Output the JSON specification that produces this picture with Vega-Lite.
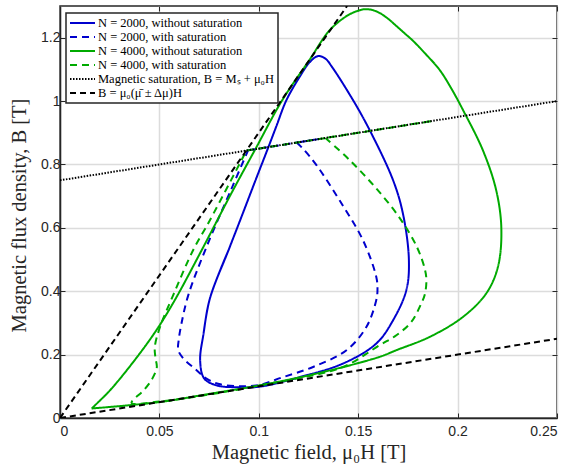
{
  "$schema": "https://vega.github.io/schema/vega-lite/v6.json",
  "width": 497,
  "height": 412,
  "autosize": {"type": "none"},
  "padding": {"left": 60, "top": 6, "right": 15, "bottom": 51},
  "background": "white",
  "config": {
    "view": {"stroke": "#262626", "strokeWidth": 1.5},
    "axis": {
      "labelFont": "Liberation Sans", "labelFontSize": 14, "labelColor": "#262626",
      "titleFont": "Liberation Serif", "titleFontSize": 20.5, "titleFontWeight": "normal", "titleColor": "#262626",
      "domainColor": "#262626", "domainWidth": 1.5,
      "tickColor": "#262626", "tickSize": -5, "tickWidth": 1,
      "gridColor": "#dcdcdc", "gridWidth": 1.5, "gridOpacity": 1
    },
    "legend": {"strokeWidth": 1.5}
  },
  "data": {
    "values": [
      {"s":"a","g":"a","o":0,"x":0.0722,"y":0.266},
      {"s":"a","g":"a","o":1,"x":0.0754,"y":0.377},
      {"s":"a","g":"a","o":2,"x":0.0848,"y":0.53},
      {"s":"a","g":"a","o":3,"x":0.0913,"y":0.635},
      {"s":"a","g":"a","o":4,"x":0.0984,"y":0.751},
      {"s":"a","g":"a","o":5,"x":0.1046,"y":0.851},
      {"s":"a","g":"a","o":6,"x":0.1088,"y":0.92},
      {"s":"a","g":"a","o":7,"x":0.1139,"y":1.003},
      {"s":"a","g":"a","o":8,"x":0.1206,"y":1.077},
      {"s":"a","g":"a","o":9,"x":0.1255,"y":1.122},
      {"s":"a","g":"a","o":10,"x":0.1298,"y":1.142},
      {"s":"a","g":"a","o":11,"x":0.1335,"y":1.134},
      {"s":"a","g":"a","o":12,"x":0.1368,"y":1.108},
      {"s":"a","g":"a","o":13,"x":0.1474,"y":1.003},
      {"s":"a","g":"a","o":14,"x":0.1558,"y":0.908},
      {"s":"a","g":"a","o":15,"x":0.1675,"y":0.751},
      {"s":"a","g":"a","o":16,"x":0.1725,"y":0.645},
      {"s":"a","g":"a","o":17,"x":0.1755,"y":0.498},
      {"s":"a","g":"a","o":18,"x":0.1742,"y":0.403},
      {"s":"a","g":"a","o":19,"x":0.1675,"y":0.308},
      {"s":"a","g":"a","o":20,"x":0.1591,"y":0.235},
      {"s":"a","g":"a","o":21,"x":0.1424,"y":0.172},
      {"s":"a","g":"a","o":22,"x":0.1206,"y":0.129},
      {"s":"a","g":"a","o":23,"x":0.1005,"y":0.099},
      {"s":"a","g":"a","o":24,"x":0.0888,"y":0.097},
      {"s":"a","g":"a","o":25,"x":0.0787,"y":0.103},
      {"s":"a","g":"a","o":26,"x":0.0725,"y":0.125},
      {"s":"a","g":"a","o":27,"x":0.0705,"y":0.182},
      {"s":"a","g":"a","o":28,"x":0.0722,"y":0.266},
      {"s":"a","g":"a","o":29,"x":0.0754,"y":0.377},
      {"s":"a","g":"a","o":30,"x":0.0848,"y":0.53},

      {"s":"b","g":"b1","o":1,"x":0.119,"y":0.869},
      {"s":"b","g":"b1","o":2,"x":0.1225,"y":0.848},
      {"s":"b","g":"b1","o":3,"x":0.129,"y":0.798},
      {"s":"b","g":"b1","o":4,"x":0.1407,"y":0.686},
      {"s":"b","g":"b1","o":5,"x":0.1524,"y":0.561},
      {"s":"b","g":"b1","o":6,"x":0.1591,"y":0.445},
      {"s":"b","g":"b1","o":7,"x":0.1597,"y":0.405},
      {"s":"b","g":"b1","o":8,"x":0.1591,"y":0.372},
      {"s":"b","g":"b1","o":9,"x":0.1541,"y":0.287},
      {"s":"b","g":"b1","o":10,"x":0.1441,"y":0.214},
      {"s":"b","g":"b1","o":11,"x":0.1273,"y":0.161},
      {"s":"b","g":"b1","o":12,"x":0.1122,"y":0.129},
      {"s":"b","g":"b1","o":13,"x":0.1,"y":0.104},
      {"s":"b","g":"b1","o":14,"x":0.09,"y":0.1},
      {"s":"b","g":"b1","o":15,"x":0.08,"y":0.107},
      {"s":"b","g":"b1","o":16,"x":0.0737,"y":0.124},
      {"s":"b","g":"b1","o":17,"x":0.0687,"y":0.151},
      {"s":"b","g":"b1","o":18,"x":0.062,"y":0.188},
      {"s":"b","g":"b1","o":19,"x":0.0595,"y":0.214},
      {"s":"b","g":"b1","o":20,"x":0.0598,"y":0.25},
      {"s":"b","g":"b1","o":21,"x":0.0611,"y":0.298},
      {"s":"b","g":"b1","o":22,"x":0.0645,"y":0.387},
      {"s":"b","g":"b1","o":23,"x":0.0737,"y":0.54},
      {"s":"b","g":"b1","o":24,"x":0.0863,"y":0.724},
      {"s":"b","g":"b1","o":25,"x":0.0946,"y":0.8446},
      {"s":"b","g":"b2","o":1,"x":0.0946,"y":0.8446},
      {"s":"b","g":"b2","o":2,"x":0.1307,"y":0.8807},
      {"s":"b","g":"b2","o":3,"x":0.119,"y":0.869},

      {"s":"c","g":"c","o":1,"x":0.0159,"y":0.03},
      {"s":"c","g":"c","o":2,"x":0.0251,"y":0.087},
      {"s":"c","g":"c","o":3,"x":0.0375,"y":0.182},
      {"s":"c","g":"c","o":4,"x":0.0488,"y":0.28},
      {"s":"c","g":"c","o":5,"x":0.0582,"y":0.377},
      {"s":"c","g":"c","o":6,"x":0.0713,"y":0.53},
      {"s":"c","g":"c","o":7,"x":0.0862,"y":0.709},
      {"s":"c","g":"c","o":8,"x":0.0985,"y":0.851},
      {"s":"c","g":"c","o":9,"x":0.1118,"y":1.003},
      {"s":"c","g":"c","o":10,"x":0.1254,"y":1.129},
      {"s":"c","g":"c","o":11,"x":0.1357,"y":1.224},
      {"s":"c","g":"c","o":12,"x":0.1441,"y":1.268},
      {"s":"c","g":"c","o":13,"x":0.149,"y":1.283},
      {"s":"c","g":"c","o":14,"x":0.1533,"y":1.29},
      {"s":"c","g":"c","o":15,"x":0.1573,"y":1.287},
      {"s":"c","g":"c","o":16,"x":0.1608,"y":1.278},
      {"s":"c","g":"c","o":17,"x":0.165,"y":1.26},
      {"s":"c","g":"c","o":18,"x":0.1692,"y":1.237},
      {"s":"c","g":"c","o":19,"x":0.1735,"y":1.213},
      {"s":"c","g":"c","o":20,"x":0.1776,"y":1.19},
      {"s":"c","g":"c","o":21,"x":0.184,"y":1.148},
      {"s":"c","g":"c","o":22,"x":0.191,"y":1.098},
      {"s":"c","g":"c","o":23,"x":0.197,"y":1.038},
      {"s":"c","g":"c","o":24,"x":0.2027,"y":0.972},
      {"s":"c","g":"c","o":25,"x":0.2127,"y":0.845},
      {"s":"c","g":"c","o":26,"x":0.2194,"y":0.719},
      {"s":"c","g":"c","o":27,"x":0.222,"y":0.598},
      {"s":"c","g":"c","o":28,"x":0.2203,"y":0.477},
      {"s":"c","g":"c","o":29,"x":0.2144,"y":0.393},
      {"s":"c","g":"c","o":30,"x":0.2027,"y":0.319},
      {"s":"c","g":"c","o":31,"x":0.186,"y":0.256},
      {"s":"c","g":"c","o":32,"x":0.1692,"y":0.214},
      {"s":"c","g":"c","o":33,"x":0.1608,"y":0.193},
      {"s":"c","g":"c","o":34,"x":0.129,"y":0.14},
      {"s":"c","g":"c","o":35,"x":0.1005,"y":0.103},
      {"s":"c","g":"c","o":36,"x":0.075,"y":0.076},
      {"s":"c","g":"c","o":37,"x":0.0503,"y":0.0505},
      {"s":"c","g":"c","o":38,"x":0.0159,"y":0.03},

      {"s":"d","g":"d1","o":1,"x":0.1335,"y":0.8835},
      {"s":"d","g":"d1","o":2,"x":0.1455,"y":0.815},
      {"s":"d","g":"d1","o":3,"x":0.159,"y":0.725},
      {"s":"d","g":"d1","o":4,"x":0.171,"y":0.63},
      {"s":"d","g":"d1","o":5,"x":0.1795,"y":0.54},
      {"s":"d","g":"d1","o":6,"x":0.1835,"y":0.47},
      {"s":"d","g":"d1","o":7,"x":0.1843,"y":0.435},
      {"s":"d","g":"d1","o":8,"x":0.1835,"y":0.39},
      {"s":"d","g":"d1","o":9,"x":0.1817,"y":0.361},
      {"s":"d","g":"d1","o":10,"x":0.1767,"y":0.303},
      {"s":"d","g":"d1","o":11,"x":0.1692,"y":0.261},
      {"s":"d","g":"d1","o":12,"x":0.1608,"y":0.23},
      {"s":"d","g":"d1","o":13,"x":0.1455,"y":0.17},
      {"s":"d","g":"d1","o":14,"x":0.135,"y":0.146},
      {"s":"d","g":"d1","o":15,"x":0.12,"y":0.126},
      {"s":"d","g":"d1","o":16,"x":0.1,"y":0.102},
      {"s":"d","g":"d1","o":17,"x":0.075,"y":0.074},
      {"s":"d","g":"d1","o":18,"x":0.05,"y":0.052},
      {"s":"d","g":"d1","o":19,"x":0.036,"y":0.048},
      {"s":"d","g":"d1","o":20,"x":0.0425,"y":0.09},
      {"s":"d","g":"d1","o":21,"x":0.0465,"y":0.125},
      {"s":"d","g":"d1","o":22,"x":0.0487,"y":0.16},
      {"s":"d","g":"d1","o":23,"x":0.048,"y":0.19},
      {"s":"d","g":"d1","o":24,"x":0.0477,"y":0.225},
      {"s":"d","g":"d1","o":25,"x":0.0503,"y":0.287},
      {"s":"d","g":"d1","o":26,"x":0.0569,"y":0.387},
      {"s":"d","g":"d1","o":27,"x":0.067,"y":0.53},
      {"s":"d","g":"d1","o":28,"x":0.0754,"y":0.624},
      {"s":"d","g":"d1","o":29,"x":0.0938,"y":0.8438},
      {"s":"d","g":"d2","o":1,"x":0.0938,"y":0.8438},
      {"s":"d","g":"d2","o":2,"x":0.1876,"y":0.9376},
      {"s":"d","g":"d2","o":3,"x":0.1335,"y":0.8835},

      {"s":"e","g":"e","o":1,"x":0,"y":0.75},
      {"s":"e","g":"e","o":2,"x":0.25,"y":1.0},

      {"s":"f","g":"f1","o":1,"x":0,"y":0},
      {"s":"f","g":"f1","o":2,"x":0.1444,"y":1.3},
      {"s":"f","g":"f2","o":1,"x":0,"y":0},
      {"s":"f","g":"f2","o":2,"x":0.25,"y":0.25}
    ]
  },
  "layer": [
    {
      "transform": [{"filter": "indexof(['a','b1','c','d1'], datum.g) >= 0"}],
      "mark": {"type": "line", "interpolate": "catmull-rom", "clip": true},
      "encoding": {
        "x": {
          "field": "x", "type": "quantitative",
          "scale": {"domain": [0, 0.25], "nice": false, "zero": false},
          "axis": {"values": [0, 0.05, 0.1, 0.15, 0.2, 0.25], "format": "~g", "title": "Magnetic field, μ₀H   [T]", "labelPadding": 11, "titleY": 40.5, "titleBaseline": "alphabetic"}
        },
        "y": {
          "field": "y", "type": "quantitative",
          "scale": {"domain": [0, 1.3], "nice": false, "zero": false},
          "axis": {"values": [0, 0.2, 0.4, 0.6, 0.8, 1, 1.2], "format": "~g", "title": "Magnetic flux density, B   [T]", "labelPadding": 5, "titleX": -35, "titleY": 209, "titleBaseline": "alphabetic", "titleAngle": -90}
        },
        "color": {
          "field": "s", "type": "nominal",
          "scale": {"domain": ["a", "b", "c", "d", "e", "f"], "range": ["#0000cd", "#0000cd", "#00aa00", "#00aa00", "#000000", "#000000"]},
          "legend": {
            "orient": "none", "legendX": 6, "legendY": 7, "title": null,
            "symbolType": "stroke", "symbolSize": 625, "clipHeight": 14, "rowPadding": 0,
            "labelFont": "Liberation Serif", "labelFontSize": 12.5, "labelColor": "#000000", "labelOffset": 2, "labelLimit": 400,
            "padding": 3, "strokeColor": "#262626", "fillColor": "white",
            "labelExpr": "datum.label == 'a' ? 'N = 2000, without saturation' : datum.label == 'b' ? 'N = 2000, with saturation' : datum.label == 'c' ? 'N = 4000, without saturation' : datum.label == 'd' ? 'N = 4000, with saturation' : datum.label == 'e' ? 'Magnetic saturation, B = Mₛ + μ₀H' : 'B = μ₀(μ̄ ± Δμ)H'"
          }
        },
        "strokeDash": {
          "field": "s", "type": "nominal",
          "scale": {"domain": ["a", "b", "c", "d", "e", "f"], "range": [[1, 0], [7, 5], [1, 0], [7, 5], [1.5, 1.5], [6, 4]]}
        },
        "strokeWidth": {
          "field": "s", "type": "nominal",
          "scale": {"domain": ["a", "b", "c", "d", "e", "f"], "range": [2, 2, 2, 2, 1, 1.4]}
        },
        "detail": {"field": "g"},
        "order": {"field": "o", "type": "quantitative"}
      }
    },
    {
      "transform": [{"filter": "indexof(['a','b1','c','d1'], datum.g) < 0"}],
      "mark": {"type": "line", "clip": true},
      "encoding": {
        "x": {"field": "x", "type": "quantitative", "axis": null},
        "y": {"field": "y", "type": "quantitative", "axis": null},
        "color": {"field": "s", "type": "nominal"},
        "strokeDash": {"field": "s", "type": "nominal"},
        "strokeWidth": {"field": "s", "type": "nominal"},
        "detail": {"field": "g"},
        "order": {"field": "o", "type": "quantitative"}
      }
    },
    {
      "transform": [{"filter": "datum.g == 'e'"}],
      "mark": {"type": "point", "opacity": 0},
      "encoding": {
        "x": {"field": "x", "type": "quantitative", "axis": {"orient": "top", "values": [0, 0.05, 0.1, 0.15, 0.2, 0.25], "labels": false, "title": null, "grid": false, "domain": false}},
        "y": {"field": "y", "type": "quantitative", "axis": {"orient": "right", "values": [0, 0.2, 0.4, 0.6, 0.8, 1, 1.2], "labels": false, "title": null, "grid": false, "domain": false}}
      }
    }
  ],
  "resolve": {"axis": {"x": "independent", "y": "independent"}}
}
